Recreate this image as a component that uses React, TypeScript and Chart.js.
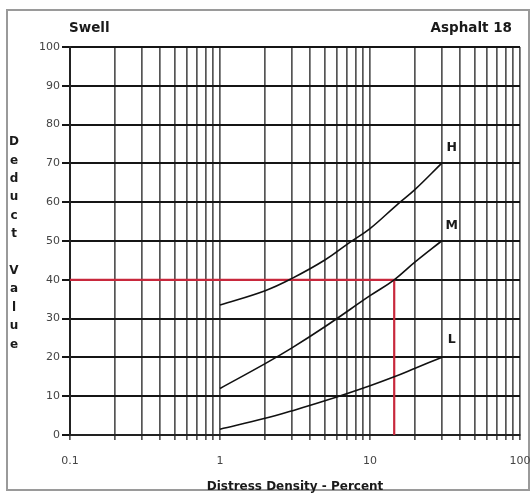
import React, { useEffect, useRef } from 'react';
import { Chart, registerables } from 'chart.js';

Chart.register(...registerables);

// ---- data ----
const densityH = [1, 2, 3, 5, 7.3, 10, 15, 20, 30];
const deductH = [33.5, 37.2, 40.3, 45.1, 49.6, 53.2, 59.2, 63.3, 70];

const densityM = [1, 2, 3, 5, 10, 14.5, 20, 30];
const deductM = [12, 18.4, 22.4, 27.9, 35.9, 40, 44.6, 50];

const densityL = [1, 2, 3, 5, 10, 14.5, 20, 30];
const deductL = [1.5, 4.3, 6.2, 8.8, 12.7, 15, 17.2, 20];

const exampleDensity = [0.1, 14.5, 14.5];
const exampleDeduct = [40, 40, 0];

const xGridValues = [
  0.1, 0.2, 0.3, 0.4, 0.5, 0.6, 0.7, 0.8, 0.9,
  1, 2, 3, 4, 5, 6, 7, 8, 9,
  10, 20, 30, 40, 50, 60, 70, 80, 90, 100,
];
const xTickValues = [0.1, 1, 10, 100];
const xTickLabels = ['0.1', '1', '10', '100'];

const curveNames = ['H', 'M', 'L'];
const curveLabelX = [35, 35, 35];
const curveLabelY = [74, 54, 24.5];

const yTitleLetters = ['D', 'e', 'd', 'u', 'c', 't', '', 'V', 'a', 'l', 'u', 'e'];

const titleLeft = 'Swell';
const titleRight = 'Asphalt 18';
const xTitle = 'Distress Density - Percent';

const toPts = (xs: number[], ys: number[]) => xs.map((x, i) => ({ x, y: ys[i] }));

const decorPlugin = {
  id: 'decor',
  beforeDraw(chart: any) {
    const { ctx, width, height } = chart;
    ctx.save();
    ctx.fillStyle = '#ffffff';
    ctx.fillRect(0, 0, width, height);
    ctx.strokeStyle = '#9a9a9a';
    ctx.lineWidth = 2;
    ctx.strokeRect(7, 10, 522, 480);
    ctx.restore();
  },
  afterDraw(chart: any) {
    const { ctx } = chart;
    const xs = chart.scales.x;
    const ys = chart.scales.y;
    ctx.save();
    ctx.fillStyle = '#1a1a1a';
    ctx.font = 'bold 13.5px "DejaVu Sans", sans-serif';
    ctx.textBaseline = 'alphabetic';
    ctx.textAlign = 'left';
    ctx.fillText(titleLeft, 69, 32);
    ctx.textAlign = 'right';
    ctx.fillText(titleRight, 512, 32);

    // x axis title
    ctx.font = 'bold 12px "DejaVu Sans", sans-serif';
    ctx.textAlign = 'center';
    ctx.textBaseline = 'middle';
    ctx.fillText(xTitle, 295, 487);

    // stacked y axis title
    ctx.font = 'bold 12px "DejaVu Sans", sans-serif';
    yTitleLetters.forEach((ch, i) => {
      if (ch) ctx.fillText(ch, 14, 142 + i * 18.4);
    });

    // curve labels
    ctx.font = 'bold 12.5px "DejaVu Sans", sans-serif';
    curveNames.forEach((n, i) => {
      const px = xs.getPixelForValue(curveLabelX[i]);
      const py = ys.getPixelForValue(curveLabelY[i]);
      ctx.fillText(n, px, py);
    });
    ctx.restore();
  },
};

export default function App() {
  const ref = useRef<HTMLCanvasElement | null>(null);

  useEffect(() => {
    if (!ref.current) return;
    const lineStyle = {
      borderColor: '#111111',
      borderWidth: 1.6,
      pointRadius: 0,
      fill: false,
      tension: 0.4,
    };
    const chart = new Chart(ref.current, {
      type: 'line',
      data: {
        datasets: [
          { label: 'H', data: toPts(densityH, deductH), ...lineStyle },
          { label: 'M', data: toPts(densityM, deductM), ...lineStyle },
          { label: 'L', data: toPts(densityL, deductL), ...lineStyle },
          {
            label: 'example',
            data: toPts(exampleDensity, exampleDeduct),
            borderColor: '#c8283c',
            borderWidth: 2.2,
            pointRadius: 0,
            tension: 0,
            fill: false,
          },
        ],
      },
      options: {
        responsive: false,
        animation: false,
        devicePixelRatio: 1,
        layout: { padding: { left: 0, top: 47, right: 12, bottom: 0 } },
        plugins: {
          legend: { display: false },
          tooltip: { enabled: false },
          title: { display: false },
        },
        scales: {
          x: {
            type: 'logarithmic',
            min: 0.1,
            max: 100,
            afterBuildTicks: (s: any) => {
              s.ticks = xGridValues.map((v) => ({ value: v }));
            },
            afterFit: (s: any) => {
              s.height = 62;
              s.paddingLeft = 0;
              s.paddingRight = 0;
            },
            ticks: {
              autoSkip: false,
              maxRotation: 0,
              minRotation: 0,
              padding: 15,
              color: '#444444',
              font: { family: '"DejaVu Sans", sans-serif', size: 11 },
              callback: (v: any) => {
                const idx = xTickValues.findIndex((t) => Math.abs(t - Number(v)) < 1e-9);
                return idx >= 0 ? xTickLabels[idx] : '';
              },
            },
            grid: {
              color: '#555555',
              lineWidth: 1.7,
              tickLength: 5,
              drawTicks: true,
            },
            border: { display: true, color: '#222222', width: 2 },
          },
          y: {
            type: 'linear',
            min: 0,
            max: 100,
            afterFit: (s: any) => {
              s.width = 70;
              s.paddingTop = 0;
              s.paddingBottom = 0;
            },
            ticks: {
              stepSize: 10,
              padding: 2,
              color: '#444444',
              font: { family: '"DejaVu Sans", sans-serif', size: 11 },
            },
            grid: {
              color: '#151515',
              lineWidth: 2,
              tickLength: 8,
              drawTicks: true,
            },
            border: { display: true, color: '#222222', width: 2 },
          },
        },
      },
      plugins: [decorPlugin],
    });
    return () => chart.destroy();
  }, []);

  return (
    <div style={{ position: 'absolute', left: 0, top: 0, width: 532, height: 497 }}>
      <canvas ref={ref} width={532} height={497} style={{ display: 'block' }} />
    </div>
  );
}
